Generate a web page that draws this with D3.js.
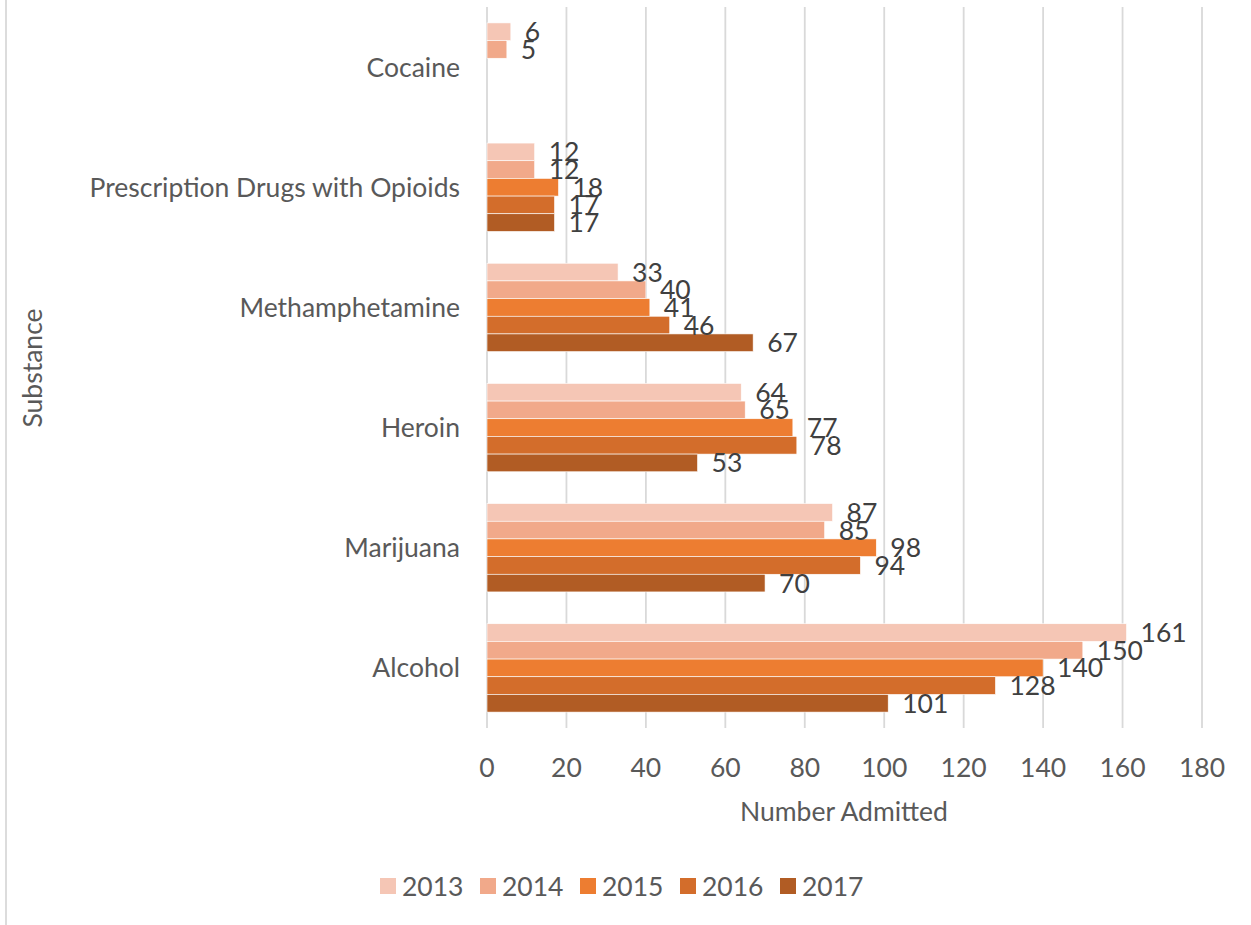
<!DOCTYPE html>
<html><head><meta charset="utf-8">
<script src="https://cdn.jsdelivr.net/npm/d3@7/dist/d3.min.js"></script>
<style>body{margin:0;background:#fff}svg{display:block}text{font-family:Lato,"Liberation Sans",sans-serif;fill:#595959}</style>
</head><body>
<script>
const categories = ["Cocaine","Prescription Drugs with Opioids","Methamphetamine","Heroin","Marijuana","Alcohol"];
const years = ["2013","2014","2015","2016","2017"];
const v2013 = [6,12,33,64,87,161];
const v2014 = [5,12,40,65,85,150];
const v2015 = [null,18,41,77,98,140];
const v2016 = [null,17,46,78,94,128];
const v2017 = [null,17,67,53,70,101];
const xTicks = [0,20,40,60,80,100,120,140,160,180];
const colors = ["#F5C6B5","#F1A98A","#ED7D31","#D36D2B","#B15C24"];
const series = [v2013,v2014,v2015,v2016,v2017];

const W=1251,H=925,FS=26.5;
const svg=d3.select("body").append("svg").attr("width",W).attr("height",H);
svg.append("line").attr("x1",6).attr("x2",6).attr("y1",0).attr("y2",925).attr("stroke","#d9d9d9").attr("stroke-width",1.8);

const x=d3.scaleLinear().domain([0,180]).range([487,1202]);
const y=d3.scaleBand().domain(categories).range([7,728]);
const yi=d3.scaleBand().domain(years).range([0,y.bandwidth()]).paddingInner(0).paddingOuter(0.9);

svg.append("g").selectAll("line").data(xTicks).join("line")
  .attr("x1",d=>x(d)).attr("x2",d=>x(d)).attr("y1",7).attr("y2",728)
  .attr("stroke","#d9d9d9").attr("stroke-width",1.8);

const g=svg.append("g");
series.forEach((s,si)=>{
  const data=categories.map((c,i)=>({c,v:s[i]})).filter(d=>d.v!=null);
  g.append("g").selectAll("rect").data(data).join("rect")
    .attr("x",x(0)).attr("y",d=>y(d.c)+yi(years[si]))
    .attr("width",d=>x(d.v)-x(0)).attr("height",yi.bandwidth())
    .attr("fill",colors[si]).attr("stroke","#fff").attr("stroke-width",0.6);
});
series.forEach((s,si)=>{
  const data=categories.map((c,i)=>({c,v:s[i]})).filter(d=>d.v!=null);
  g.append("g").selectAll("text").data(data).join("text")
    .attr("x",d=>x(d.v)+14).attr("y",d=>y(d.c)+yi(years[si])+yi.bandwidth()/2+9.5)
    .attr("font-size",FS).style("fill","#404040").text(d=>d.v);
});

svg.append("g").selectAll("text").data(categories).join("text")
  .attr("x",460).attr("y",d=>y(d)+y.bandwidth()/2+9.5).attr("text-anchor","end")
  .attr("font-size",FS).text(d=>d);

svg.append("g").selectAll("text").data(xTicks).join("text")
  .attr("x",d=>x(d)).attr("y",777).attr("text-anchor","middle").attr("font-size",FS).text(d=>d);

svg.append("text").attr("x",844).attr("y",821).attr("text-anchor","middle").attr("font-size",FS).text("Number Admitted");
svg.append("text").attr("transform","translate(42,368) rotate(-90)").attr("text-anchor","middle").attr("font-size",FS).text("Substance");

const lg=svg.append("g").selectAll("g").data(years).join("g").attr("transform",(d,i)=>`translate(${380+i*100},878)`);
lg.append("rect").attr("width",16).attr("height",16).attr("fill",(d,i)=>colors[i]);
lg.append("text").attr("x",22).attr("y",17.5).attr("font-size",FS).text(d=>d);
</script>
</body></html>
